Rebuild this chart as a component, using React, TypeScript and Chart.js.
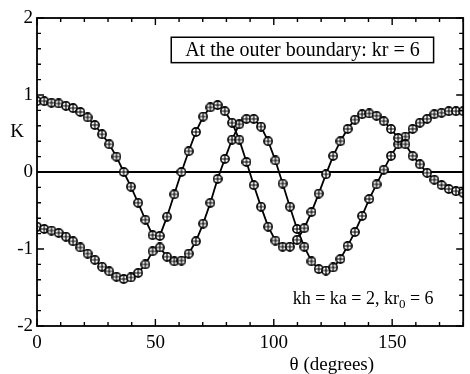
import React, { useEffect, useRef } from 'react';
import { Chart, registerables } from 'chart.js';

Chart.register(...registerables);

// theta (degrees) at which both curves are sampled
const THETA = [
  0, 3.05, 6.1, 9.15, 12.2, 15.25, 18.31, 21.36, 24.41, 27.46,
  30.51, 33.56, 36.61, 39.66, 42.71, 45.76, 48.81, 51.86, 54.92, 57.97,
  61.02, 64.07, 67.12, 70.17, 73.22, 76.27, 79.32, 82.37, 85.42, 88.47,
  91.53, 94.58, 97.63, 100.68, 103.73, 106.78, 109.83, 112.88, 115.93, 118.98,
  122.03, 125.08, 128.14, 131.19, 134.24, 137.29, 140.34, 143.39, 146.44, 149.49,
  152.54, 155.59, 158.64, 161.69, 164.75, 167.8, 170.85, 173.9, 176.95, 180,
];

// curve starting near +0.9
const K_A = [
  0.92, 0.92, 0.9, 0.89, 0.86, 0.83, 0.78, 0.71, 0.61, 0.49,
  0.36, 0.2, 0.0, -0.19, -0.4, -0.62, -0.82, -0.83, -0.58, -0.29,
  0.0, 0.27, 0.52, 0.72, 0.84, 0.87, 0.79, 0.64, 0.42, 0.13,
  -0.17, -0.45, -0.71, -0.89, -0.97, -0.97, -0.88, -0.73, -0.52, -0.28,
  -0.03, 0.21, 0.4, 0.56, 0.68, 0.75, 0.76, 0.73, 0.66, 0.56,
  0.44, 0.36, 0.21, 0.1, -0.01, -0.1, -0.17, -0.22, -0.25, -0.27,
];

// curve starting near -0.7
const K_B = [
  -0.71, -0.74, -0.76, -0.79, -0.84, -0.9, -0.98, -1.06, -1.14, -1.23,
  -1.29, -1.36, -1.39, -1.37, -1.31, -1.2, -1.03, -0.98, -1.1, -1.16,
  -1.15, -1.06, -0.9, -0.67, -0.4, -0.09, 0.17, 0.42, 0.62, 0.69,
  0.69, 0.59, 0.4, 0.15, -0.15, -0.45, -0.74, -0.97, -1.16, -1.26,
  -1.28, -1.24, -1.13, -0.96, -0.78, -0.57, -0.35, -0.16, 0.03, 0.21,
  0.36, 0.46, 0.56, 0.64, 0.69, 0.75, 0.77, 0.79, 0.79, 0.79,
];

const X_TICKS = [0, 50, 100, 150];
const Y_TICKS = [-2, -1, 0, 1, 2];

const SERIF = '"Liberation Serif", "Times New Roman", serif';

function makeMarker(): HTMLCanvasElement {
  const s = 10;
  const c = document.createElement('canvas');
  c.width = s;
  c.height = s;
  const g = c.getContext('2d')!;
  const r = 4.1;
  const cx = s / 2;
  const cy = s / 2;
  g.fillStyle = '#fff';
  g.beginPath();
  g.arc(cx, cy, r, 0, Math.PI * 2);
  g.fill();
  g.strokeStyle = '#000';
  g.lineWidth = 1.6;
  g.stroke();
  g.lineWidth = 1.2;
  g.beginPath();
  g.moveTo(cx - r, cy);
  g.lineTo(cx + r, cy);
  g.moveTo(cx, cy - r);
  g.lineTo(cx, cy + r);
  g.stroke();
  return c;
}

const framePlugin = {
  id: 'frame',
  beforeDatasetsDraw(chart: any) {
    const { ctx, chartArea: a, scales } = chart;
    const y0 = scales.y.getPixelForValue(0);
    ctx.save();
    ctx.strokeStyle = '#000';
    ctx.lineWidth = 2;
    ctx.beginPath();
    ctx.moveTo(a.left, y0);
    ctx.lineTo(a.right, y0);
    ctx.stroke();
    ctx.restore();
  },
  afterDraw(chart: any) {
    const { ctx, chartArea: a, scales } = chart;
    const xs = scales.x;
    const ys = scales.y;
    ctx.save();
    ctx.strokeStyle = '#000';
    ctx.lineWidth = 1.8;
    ctx.strokeRect(a.left, a.top, a.right - a.left, a.bottom - a.top);

    // x ticks (inside, bottom and top)
    ctx.lineWidth = 1.4;
    ctx.beginPath();
    for (let v = 0; v <= 180; v += 10) {
      const px = xs.getPixelForValue(v);
      const len = v % 50 === 0 ? 7 : 4;
      ctx.moveTo(px, a.bottom);
      ctx.lineTo(px, a.bottom - len);
      ctx.moveTo(px, a.top);
      ctx.lineTo(px, a.top + len);
    }
    // y ticks (inside, left and right)
    for (let i = -10; i <= 10; i++) {
      const v = i / 5;
      const py = ys.getPixelForValue(v);
      const len = i % 5 === 0 ? 7 : 4;
      ctx.moveTo(a.left, py);
      ctx.lineTo(a.left + len, py);
      ctx.moveTo(a.right, py);
      ctx.lineTo(a.right - len, py);
    }
    ctx.stroke();

    // annotation box
    const bx0 = xs.getPixelForValue(56.7);
    const bx1 = xs.getPixelForValue(167.5);
    const by0 = ys.getPixelForValue(1.75);
    const by1 = ys.getPixelForValue(1.42);
    ctx.fillStyle = '#fff';
    ctx.fillRect(bx0, by0, bx1 - bx0, by1 - by0);
    ctx.lineWidth = 1.5;
    ctx.strokeRect(bx0, by0, bx1 - bx0, by1 - by0);
    ctx.fillStyle = '#000';
    ctx.font = `20px ${SERIF}`;
    ctx.textAlign = 'center';
    ctx.textBaseline = 'middle';
    ctx.fillText('At the outer boundary: kr = 6', (bx0 + bx1) / 2, (by0 + by1) / 2 + 1);

    // bottom-right annotation with subscript
    const main = 'kh = ka = 2, kr';
    const sub = '0';
    const tail = ' = 6';
    ctx.textAlign = 'left';
    ctx.textBaseline = 'alphabetic';
    ctx.font = `18px ${SERIF}`;
    const wMain = ctx.measureText(main).width;
    const wTail = ctx.measureText(tail).width;
    ctx.font = `13px ${SERIF}`;
    const wSub = ctx.measureText(sub).width;
    const right = xs.getPixelForValue(167.5);
    const base = ys.getPixelForValue(-1.72);
    let x = right - (wMain + wSub + wTail);
    ctx.font = `18px ${SERIF}`;
    ctx.fillText(main, x, base);
    x += wMain;
    ctx.font = `13px ${SERIF}`;
    ctx.fillText(sub, x, base + 4);
    x += wSub;
    ctx.font = `18px ${SERIF}`;
    ctx.fillText(tail, x, base);

    // axis titles
    ctx.font = `19px ${SERIF}`;
    ctx.textAlign = 'center';
    ctx.textBaseline = 'middle';
    ctx.fillText('θ (degrees)', xs.getPixelForValue(124.5), 365);
    ctx.fillText('K', 17, ys.getPixelForValue(0.52));
    ctx.restore();
  },
};

export default function App() {
  const ref = useRef<HTMLCanvasElement>(null);

  useEffect(() => {
    if (!ref.current) return;
    const marker = makeMarker();
    const mk = (vals: number[], label: string) => ({
      label,
      data: THETA.map((t, i) => ({ x: t, y: vals[i] })),
      borderColor: '#000',
      borderWidth: 1.8,
      pointStyle: marker as any,
      pointRadius: 5,
      pointHoverRadius: 5,
      tension: 0,
      fill: false,
    });
    const chart = new Chart(ref.current, {
      type: 'line',
      data: { datasets: [mk(K_A, 'A'), mk(K_B, 'B')] as any },
      options: {
        animation: false,
        responsive: false,
        events: [],
        layout: { padding: { top: 18, right: 1, left: 0, bottom: 0 } },
        plugins: { legend: { display: false }, tooltip: { enabled: false } },
        scales: {
          x: {
            type: 'linear',
            min: 0,
            max: 180,
            grid: { display: false, drawTicks: false },
            border: { display: false },
            afterBuildTicks: (s: any) => {
              s.ticks = X_TICKS.map((v) => ({ value: v }));
            },
            afterFit: (s: any) => {
              s.height = 48;
            },
            ticks: {
              color: '#000',
              padding: 6,
              maxRotation: 0,
              autoSkip: false,
              font: { family: SERIF, size: 19 },
              callback: (v: any) => String(v),
            },
          },
          y: {
            type: 'linear',
            min: -2,
            max: 2,
            grid: { display: false, drawTicks: false },
            border: { display: false },
            afterBuildTicks: (s: any) => {
              s.ticks = Y_TICKS.map((v) => ({ value: v }));
            },
            afterFit: (s: any) => {
              s.width = 37;
            },
            ticks: {
              color: '#000',
              padding: 4,
              autoSkip: false,
              font: { family: SERIF, size: 19 },
              callback: (v: any) => String(v),
            },
          },
        },
      },
      plugins: [framePlugin],
    });
    return () => chart.destroy();
  }, []);

  return (
    <div style={{ position: 'fixed', left: 0, top: 0, width: 470, height: 374, background: '#fff' }}>
      <canvas ref={ref} width={470} height={374} style={{ display: 'block' }} />
    </div>
  );
}
